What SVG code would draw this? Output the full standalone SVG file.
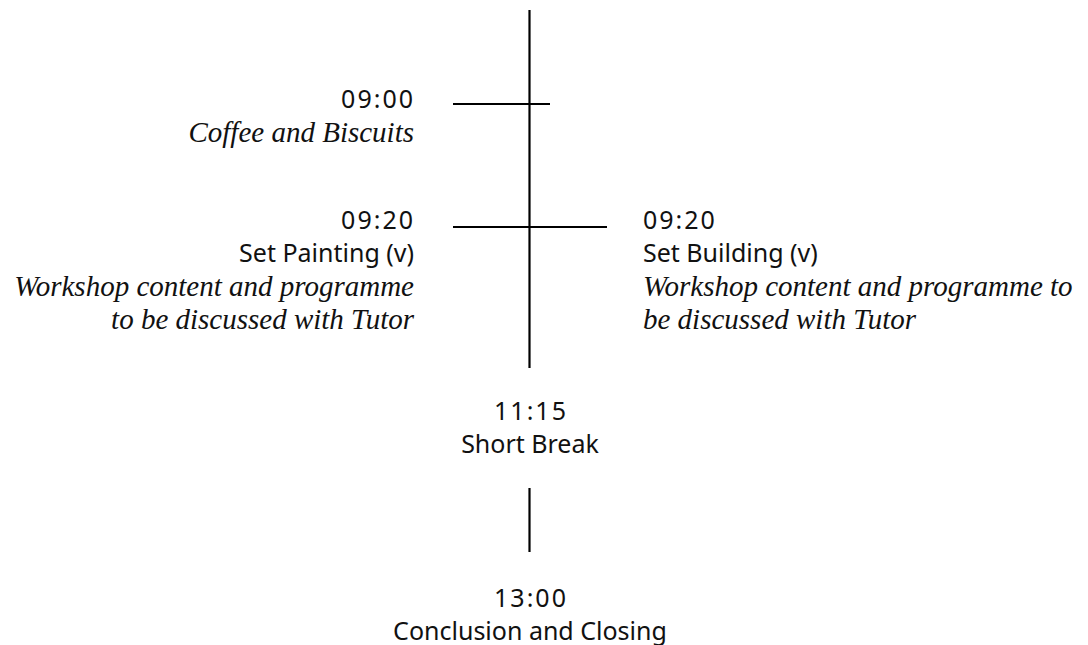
<svg xmlns="http://www.w3.org/2000/svg" width="1088" height="645" viewBox="0 0 1088 645">
<style>
.ln{stroke:#000;stroke-width:2.2;fill:none}
.t{font-family:"Noto Sans","Liberation Sans",sans-serif;font-size:25px;fill:#111}
.d{letter-spacing:2px}
.i{font-family:"Liberation Serif",serif;font-style:italic;font-size:29px;fill:#111}
.r{text-anchor:end}
.m{text-anchor:middle}
</style>
<rect width="1088" height="645" fill="#fff"/>
<g id="connectors">
<line class="ln" x1="529.5" y1="10" x2="529.5" y2="368"/>
<line class="ln" x1="453" y1="104" x2="550" y2="104"/>
<line class="ln" x1="453" y1="227" x2="607" y2="227"/>
<line class="ln" x1="529.5" y1="488" x2="529.5" y2="552"/>
</g>
<g id="n0900">
<text class="t d r" x="415" y="108">09:00</text>
<text class="i r" x="414" y="142">Coffee and Biscuits</text>
</g>
<g id="n0920a">
<text class="t d r" x="415" y="229">09:20</text>
<text class="t r" x="414" y="262">Set Painting (v)</text>
<text class="i r" x="414" y="296">Workshop content and programme</text>
<text class="i r" x="414" y="329">to be discussed with Tutor</text>
</g>
<g id="n0920b">
<text class="t d" x="643" y="229">09:20</text>
<text class="t" x="643" y="262">Set Building (v)</text>
<text class="i" x="643" y="296">Workshop content and programme to</text>
<text class="i" x="643" y="329">be discussed with Tutor</text>
</g>
<g id="n1115">
<text class="t d m" x="531" y="420">11:15</text>
<text class="t m" x="530" y="453">Short Break</text>
</g>
<g id="n1300">
<text class="t d m" x="531" y="607">13:00</text>
<text class="t m" x="530" y="640">Conclusion and Closing</text>
</g>
</svg>
